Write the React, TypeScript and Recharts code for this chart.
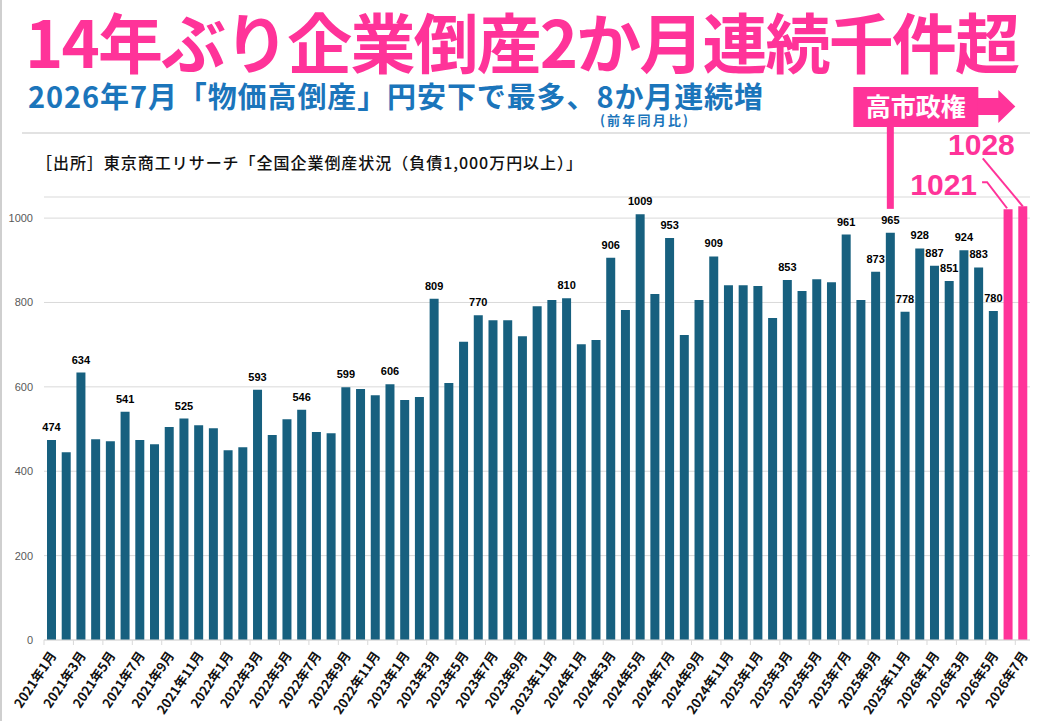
import React from 'react'
import { BarChart, Bar, XAxis, YAxis, CartesianGrid, Cell, LabelList } from 'recharts'

const months = [
  '2021年1月', '2021年2月', '2021年3月', '2021年4月', '2021年5月', '2021年6月',
  '2021年7月', '2021年8月', '2021年9月', '2021年10月', '2021年11月', '2021年12月',
  '2022年1月', '2022年2月', '2022年3月', '2022年4月', '2022年5月', '2022年6月',
  '2022年7月', '2022年8月', '2022年9月', '2022年10月', '2022年11月', '2022年12月',
  '2023年1月', '2023年2月', '2023年3月', '2023年4月', '2023年5月', '2023年6月',
  '2023年7月', '2023年8月', '2023年9月', '2023年10月', '2023年11月', '2023年12月',
  '2024年1月', '2024年2月', '2024年3月', '2024年4月', '2024年5月', '2024年6月',
  '2024年7月', '2024年8月', '2024年9月', '2024年10月', '2024年11月', '2024年12月',
  '2025年1月', '2025年2月', '2025年3月', '2025年4月', '2025年5月', '2025年6月',
  '2025年7月', '2025年8月', '2025年9月', '2025年10月', '2025年11月', '2025年12月',
  '2026年1月', '2026年2月', '2026年3月', '2026年4月', '2026年5月', '2026年6月',
  '2026年7月',
]

// 倒産件数（件）
const counts = [
  474, 445, 634, 476, 471, 541, 474, 464, 505, 525, 509, 502,
  450, 457, 593, 486, 523, 546, 493, 490, 599, 595, 580, 606,
  569, 576, 809, 609, 707, 770, 758, 758, 720, 791, 806, 810,
  701, 711, 906, 782, 1009, 820, 953, 723, 806, 909, 841, 841,
  839, 763, 853, 827, 855, 848, 961, 806, 873, 965, 778, 928,
  887, 851, 924, 883, 780, 1021, 1028,
]

// months whose value is printed above the bar
const labeledMonths = [
  '2021年1月', '2021年3月', '2021年6月', '2021年10月', '2022年3月', '2022年6月',
  '2022年9月', '2022年12月', '2023年3月', '2023年6月', '2023年12月', '2024年3月',
  '2024年5月', '2024年7月', '2024年10月', '2025年3月', '2025年7月', '2025年9月',
  '2025年10月', '2025年11月', '2025年12月', '2026年1月', '2026年2月', '2026年3月',
  '2026年4月', '2026年5月',
]

const highlightMonths = ['2026年6月', '2026年7月']
const eventMonth = '2025年10月'
const eventLabel = '高市政権'
const yTicks = [0, 200, 400, 600, 800, 1000]

const title = '14年ぶり企業倒産2か月連続千件超'
const subtitle = '2026年7月「物価高倒産」円安下で最多、8か月連続増'
const subNote = '(前年同月比)'
const source = '［出所］東京商工リサーチ「全国企業倒産状況（負債1,000万円以上）」'

const data = months.map((m, i) => ({ month: m, count: counts[i] }))

const W = 1039
const H = 721
const MARGIN = { top: 197, right: 9, bottom: 0, left: 0 }
const Y_W = 44
const X_H = 81
const STEP = (W - MARGIN.right - MARGIN.left - Y_W) / months.length

const BAR = '#17607f'
const PINK = '#ff3399'
const SUB_BLUE = '#1b75bb'
const GRID = '#d9d9d9'
const JP = '"Noto Sans CJK JP", "Noto Sans", sans-serif'
const NUM = '"Liberation Sans", Arial, sans-serif'

// callout placement for the two highlighted months (relative to bar top centre)
const callouts = [
  { dx: -31, dy: -14, leader: '-26,-27 -21,-27 -1,-1' },
  { dx: -8, dy: -51, leader: '-40,-48 0,0' },
]

function MonthTick(props: any) {
  const { x, y, payload } = props
  const tx = x + 2
  const ty = y + 13
  return (
    <g>
      <line x1={x - STEP / 2} x2={x - STEP / 2} y1={y} y2={y + 5} stroke={GRID} />
      <text
        x={tx}
        y={ty}
        dy="0.35em"
        textAnchor="end"
        transform={`rotate(-56 ${tx} ${ty})`}
        fontFamily={JP}
        fontWeight={700}
        fontSize={13}
        fill="#111"
      >
        {payload.value}
      </text>
    </g>
  )
}

function BarLabel(props: any) {
  const { index } = props
  const vb = props.viewBox || props
  const x = Number(vb.x)
  const y = Number(vb.y)
  const width = Number(vb.width)
  const cx = x + width / 2
  const month = months[index]
  const value = counts[index]
  const out: React.ReactNode[] = []

  if (month === eventMonth) {
    const boxTop = 87
    const boxH = 40
    const left = cx - 37
    const right = cx + 88
    out.push(
      <g key="event">
        <line x1={cx} x2={cx} y1={boxTop + boxH - 1} y2={y - 24} stroke={PINK} strokeWidth={7} />
        <rect x={left} y={boxTop} width={right - left} height={boxH} fill={PINK} />
        <polygon
          points={`${right - 1},${boxTop + 11} ${right + 20},${boxTop + 11} ${right + 20},${boxTop + 3} ${right + 37},${boxTop + 19.5} ${right + 20},${boxTop + 36} ${right + 20},${boxTop + 28} ${right - 1},${boxTop + 28}`}
          fill={PINK}
        />
        <text
          x={(left + right) / 2}
          y={boxTop + boxH / 2}
          dy="0.36em"
          textAnchor="middle"
          fontFamily={JP}
          fontWeight={700}
          fontSize={25}
          fill="#fff"
        >
          {eventLabel}
        </text>
      </g>
    )
  }

  const hi = highlightMonths.indexOf(month)
  if (hi >= 0) {
    const c = callouts[hi]
    const pts = c.leader
      .split(' ')
      .map((p) => {
        const [dx, dy] = p.split(',').map(Number)
        return `${cx + dx},${y + dy}`
      })
      .join(' ')
    out.push(
      <g key="hi">
        <polyline points={pts} fill="none" stroke={PINK} strokeWidth={2} />
        <text
          x={cx + c.dx}
          y={y + c.dy}
          textAnchor="end"
          fontFamily={NUM}
          fontWeight={700}
          fontSize={30}
          fill={PINK}
        >
          {value}
        </text>
      </g>
    )
  } else if (labeledMonths.includes(month)) {
    out.push(
      <text
        key="v"
        x={cx}
        y={y - 9}
        textAnchor="middle"
        fontFamily={NUM}
        fontWeight={700}
        fontSize={11}
        fill="#000"
      >
        {value}
      </text>
    )
  }
  return <g>{out}</g>
}

export default function App() {
  return (
    <div
      style={{
        position: 'absolute',
        left: 0,
        top: 0,
        width: W,
        height: H,
        background: '#fff',
        overflow: 'hidden',
      }}
    >
      <svg width={W} height={H} style={{ position: 'absolute', left: 0, top: 0 }}>
        <line x1={1} x2={1} y1={0} y2={H} stroke="#cfcfcf" strokeWidth={2} />
        <text
          x={25}
          y={68}
          textLength={995}
          lengthAdjust="spacing"
          fontFamily={JP}
          fontWeight={700}
          fontSize={65}
          fill={PINK}
        >
          {title}
        </text>
        <text
          x={28}
          y={108}
          textLength={735}
          lengthAdjust="spacing"
          fontFamily={JP}
          fontWeight={700}
          fontSize={29}
          fill={SUB_BLUE}
        >
          {subtitle}
        </text>
        <text x={600} y={125} textLength={88} lengthAdjust="spacing" fontFamily={JP} fontWeight={700} fontSize={13} fill={SUB_BLUE}>
          {subNote}
        </text>
        <line x1={22} x2={1030} y1={133} y2={133} stroke={GRID} strokeWidth={1.5} />
        <text x={36} y={169} textLength={546} lengthAdjust="spacing" fontFamily={JP} fontWeight={500} fontSize={16} fill="#111">
          {source}
        </text>
      </svg>
      <div style={{ position: 'absolute', left: 0, top: 0 }}>
        <BarChart width={W} height={H} data={data} margin={MARGIN}>
          <CartesianGrid vertical={false} stroke={GRID} />
          <XAxis
            dataKey="month"
            interval={1}
            height={X_H}
            tickLine={false}
            tickSize={0}
            tickMargin={0}
            axisLine={{ stroke: GRID }}
            tick={<MonthTick />}
          />
          <YAxis
            domain={[0, 1050]}
            ticks={yTicks}
            width={Y_W}
            axisLine={false}
            tickLine={false}
            tickMargin={5}
            tick={{ fontSize: 11, fill: '#595959', fontFamily: NUM }}
          />
          <Bar dataKey="count" barSize={9} isAnimationActive={false}>
            {data.map((d) => (
              <Cell key={d.month} fill={highlightMonths.includes(d.month) ? PINK : BAR} />
            ))}
            <LabelList dataKey="count" content={BarLabel} />
          </Bar>
        </BarChart>
      </div>
    </div>
  )
}
